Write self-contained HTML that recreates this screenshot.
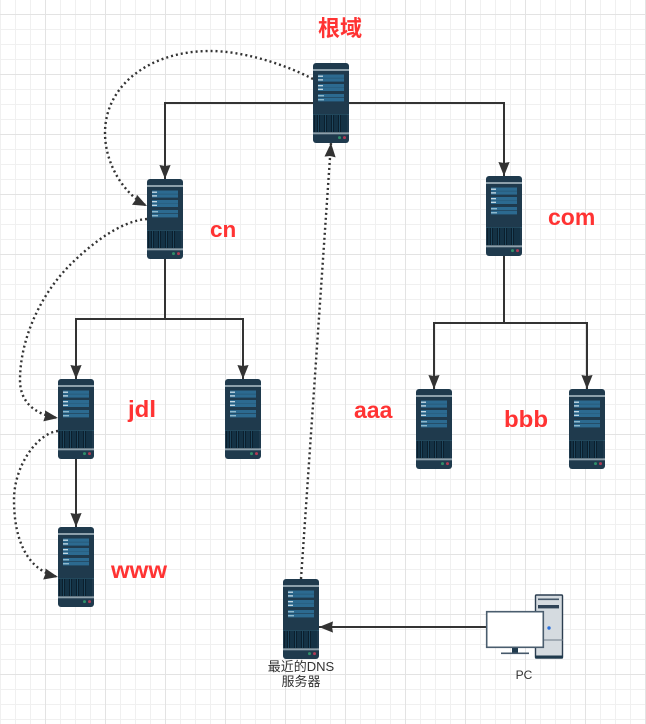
<!DOCTYPE html>
<html>
<head>
<meta charset="utf-8">
<style>
html,body{margin:0;padding:0;background:#fff;}
svg{display:block;position:absolute;left:0;top:0;}
.r{font-family:"Liberation Sans","Noto Sans CJK SC",sans-serif;font-weight:bold;font-size:23.5px;fill:#ff3333;}
.s{font-family:"Liberation Sans","Noto Sans CJK SC",sans-serif;font-size:13px;fill:#333;text-anchor:middle;}
</style>
</head>
<body>
<svg width="646" height="724" viewBox="0 0 646 724" xmlns="http://www.w3.org/2000/svg">
<defs>
<pattern id="g1" width="15" height="15" patternUnits="userSpaceOnUse" x="0" y="-1">
<path d="M0.5 0V15M0 0.5H15" stroke="#f0f0f0" stroke-width="1" fill="none"/>
</pattern>
<pattern id="g2" width="60" height="60" patternUnits="userSpaceOnUse" x="45" y="14">
<path d="M0.5 0V60M0 0.5H60" stroke="#e3e3e3" stroke-width="1" fill="none"/>
</pattern>
<marker id="a" markerUnits="userSpaceOnUse" markerWidth="16" markerHeight="16" refX="14" refY="6" orient="auto" viewBox="0 0 16 12">
<path d="M0 0.4 L14 6 L0 11.6 L1 6 Z" fill="#333"/>
</marker>
<g id="srv">
<rect x="0" y="0" width="36" height="80" rx="3" fill="#1f3a4d"/>
<rect x="0" y="6" width="36" height="2" fill="#8da0ab"/>
<rect x="5" y="11.5" width="26" height="3.4" fill="#2c6a90"/>
<rect x="5" y="15.2" width="26" height="3.4" fill="#2c6a90"/>
<rect x="5" y="21" width="26" height="3.4" fill="#2c6a90"/>
<rect x="5" y="24.6" width="26" height="3.4" fill="#2c6a90"/>
<rect x="5" y="31" width="26" height="3.4" fill="#2c6a90"/>
<rect x="5" y="35" width="26" height="3.4" fill="#2c6a90"/>
<rect x="5" y="12.6" width="5" height="1.2" fill="#d5e4ec"/>
<rect x="5" y="16.3" width="5" height="1.2" fill="#d5e4ec"/>
<rect x="5" y="22.1" width="5" height="1.2" fill="#d5e4ec"/>
<rect x="5" y="25.7" width="5" height="1.2" fill="#d5e4ec"/>
<rect x="5" y="32" width="6" height="1.4" fill="#8fb8cc"/>
<rect x="5" y="36" width="6" height="1.4" fill="#8fb8cc"/>
<rect x="1" y="51.5" width="33" height="18" fill="#0b1f2d"/>
<path d="M3 52V69M5.5 52V69M8 52V69M10 52V69M12.5 52V69M15 52V69M17 52V69M19.5 52V69M22 52V69M24 52V69M26.5 52V69M29 52V69M31 52V69M33 52V69" stroke="#24506a" stroke-width="0.8"/>
<rect x="0" y="51" width="36" height="0.7" fill="#2c5a70"/>
<rect x="0" y="69.3" width="36" height="2" fill="#8da0ab"/>
<circle cx="26.5" cy="74.6" r="1.5" fill="#2f8f6a"/>
<circle cx="31.5" cy="74.6" r="1.5" fill="#b03a55"/>
</g>
</defs>
<rect width="646" height="724" fill="#fff"/>
<rect width="646" height="724" fill="url(#g1)"/>
<rect width="646" height="724" fill="url(#g2)"/>

<g fill="none" stroke="#333" stroke-width="2">
<path d="M331 103H165V179" marker-end="url(#a)"/>
<path d="M331 103H504V176" marker-end="url(#a)"/>
<path d="M165 259V319H76V379" marker-end="url(#a)"/>
<path d="M165 319H243V379" marker-end="url(#a)"/>
<path d="M504 256V323H434V389" marker-end="url(#a)"/>
<path d="M504 323H587V389" marker-end="url(#a)"/>
<path d="M76 459V527" marker-end="url(#a)"/>
<path d="M486 627H319" marker-end="url(#a)"/>
</g>
<g fill="none" stroke="#333" stroke-width="2.4" stroke-dasharray="2 3">
<path d="M313 79C280 62 240 51 210 51C150 51 105 85 105 133C105 165 125 195 147 206" marker-end="url(#a)"/>
<path d="M147 219C120 221 90 245 70 265C40 295 20 340 20 380C20 400 32 414 58 418" marker-end="url(#a)"/>
<path d="M58 431C38 433 14 465 14 500C14 538 26 570 58 577" marker-end="url(#a)"/>
<path d="M301 579L331 143" marker-end="url(#a)"/>
</g>

<use href="#srv" x="313" y="63"/>
<use href="#srv" x="147" y="179"/>
<use href="#srv" x="486" y="176"/>
<use href="#srv" x="58" y="379"/>
<use href="#srv" x="225" y="379"/>
<use href="#srv" x="58" y="527"/>
<use href="#srv" x="416" y="389"/>
<use href="#srv" x="569" y="389"/>
<use href="#srv" x="283" y="579"/>

<g>
<rect x="535.5" y="595" width="27" height="63" rx="1" fill="#d5dbe0" stroke="#2c3e50" stroke-width="1.4"/>
<rect x="535" y="655.5" width="28" height="3" fill="#1f3a4d"/>
<rect x="538" y="598.5" width="21" height="1.6" fill="#45586a"/>
<rect x="538" y="605" width="21" height="3.4" fill="#2f4356"/>
<path d="M535 640H563" stroke="#6d7b88" stroke-width="1"/>
<circle cx="549" cy="628" r="1.7" fill="#2a6fdb"/>
<rect x="512" y="647" width="6" height="6" fill="#1f3a4d"/>
<rect x="501" y="652.5" width="28" height="1.6" fill="#45586a"/>
<rect x="486.7" y="611.7" width="56.6" height="35.6" fill="#fff" stroke="#4a5d6e" stroke-width="1.6"/>
</g>

<text class="r" x="318" y="36" style="font-size:22px">根域</text>
<text class="r" x="210" y="237" style="font-size:22.5px">cn</text>
<text class="r" x="548" y="225" style="font-size:23px">com</text>
<text class="r" x="128" y="417" textLength="28" lengthAdjust="spacingAndGlyphs">jdl</text>
<text class="r" x="354" y="418" style="font-size:23px">aaa</text>
<text class="r" x="504" y="427" textLength="44" lengthAdjust="spacingAndGlyphs">bbb</text>
<text class="r" x="111" y="578" textLength="56" lengthAdjust="spacingAndGlyphs">www</text>
<text class="s" x="301" y="671">最近的DNS</text>
<text class="s" x="301" y="686">服务器</text>
<text class="s" x="524" y="679" style="font-size:12px">PC</text>
</svg>
</body>
</html>
